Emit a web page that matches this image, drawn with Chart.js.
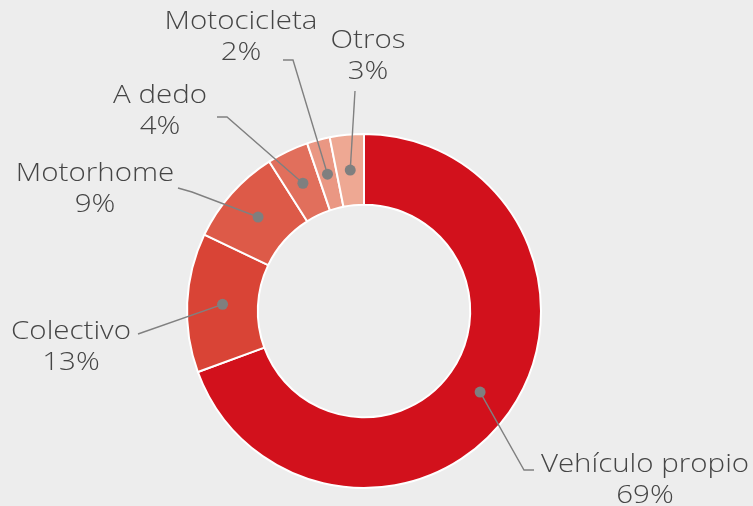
<!DOCTYPE html>
<html>
<head>
<meta charset="utf-8">
<script src="https://cdn.jsdelivr.net/npm/chart.js@4"></script>
<style>
    html, body { margin: 0; padding: 0; background: #ededed; }
    .chart-box { width: 753px; height: 506px; position: relative; }
</style>
</head>
<body>
<div class="chart-box"><canvas id="myChart"></canvas></div>
<script>
'use strict'

const categories = ['Vehículo propio', 'Colectivo', 'Motorhome', 'A dedo', 'Motocicleta', 'Otros']
const shares = [69.4, 12.7, 8.9, 3.8, 2.1, 3.1]
const colors = ['#d2111c', '#d94436', '#dd5a48', '#e16f5c', '#ea9783', '#eea893']

// where each callout text sits and how its leader line bends (canvas px)
const callouts = [
    { x: 645, y: 465, path: [[524, 470], [534, 470]] },
    { x: 71, y: 332, path: [[138, 334]] },
    { x: 95, y: 174, path: [[192, 192], [178, 188]] },
    { x: 160, y: 96, path: [[227, 117], [217, 117]] },
    { x: 241, y: 22, path: [[293, 60], [283, 60]] },
    { x: 368, y: 41, path: [[355, 91]] }
]

function wideText(ctx, text, x, y) {
    ctx.save()
    ctx.translate(x, y)
    ctx.scale(1.18, 1)
    ctx.fillText(text, 0, 0)
    ctx.restore()
}

const calloutPlugin = {
    id: 'callouts',
    afterDatasetsDraw(chart) {
        const ctx = chart.ctx
        const arcs = chart.getDatasetMeta(0).data
        const total = shares.reduce((a, b) => a + b, 0)
        ctx.save()
        arcs.forEach((arc, i) => {
            const p = arc.tooltipPosition()
            const c = callouts[i]

            ctx.strokeStyle = '#808080'
            ctx.lineWidth = 1.4
            ctx.beginPath()
            ctx.moveTo(p.x, p.y)
            c.path.forEach(pt => ctx.lineTo(pt[0], pt[1]))
            ctx.stroke()

            ctx.fillStyle = '#7f7f7f'
            ctx.beginPath()
            ctx.arc(p.x, p.y, 5.5, 0, Math.PI * 2)
            ctx.fill()

            ctx.fillStyle = '#454545'
            ctx.font = '300 25px "Open Sans"'
            ctx.textAlign = 'center'
            ctx.textBaseline = 'middle'
            wideText(ctx, categories[i], c.x, c.y)
            wideText(ctx, Math.round(shares[i] / total * 100) + '%', c.x, c.y + 31)
        })
        ctx.restore()
    }
}

const bgPlugin = {
    id: 'bg',
    beforeDraw(chart) {
        const ctx = chart.ctx
        ctx.save()
        ctx.fillStyle = '#ededed'
        ctx.fillRect(0, 0, chart.width, chart.height)
        ctx.restore()
    }
}

const ctx = document.getElementById('myChart').getContext('2d')
const chart = new Chart(ctx, {
    type: 'doughnut',
    data: {
        labels: categories,
        datasets: [{
            data: shares,
            backgroundColor: colors,
            borderColor: '#ffffff',
            borderWidth: 2
        }]
    },
    options: {
        responsive: true,
        maintainAspectRatio: false,
        animation: false,
        cutout: '60%',
        layout: { padding: { left: 186, right: 211, top: 133, bottom: 17 } },
        plugins: {
            legend: { display: false },
            tooltip: { enabled: false }
        }
    },
    plugins: [bgPlugin, calloutPlugin]
})
</script>
</body>
</html>
